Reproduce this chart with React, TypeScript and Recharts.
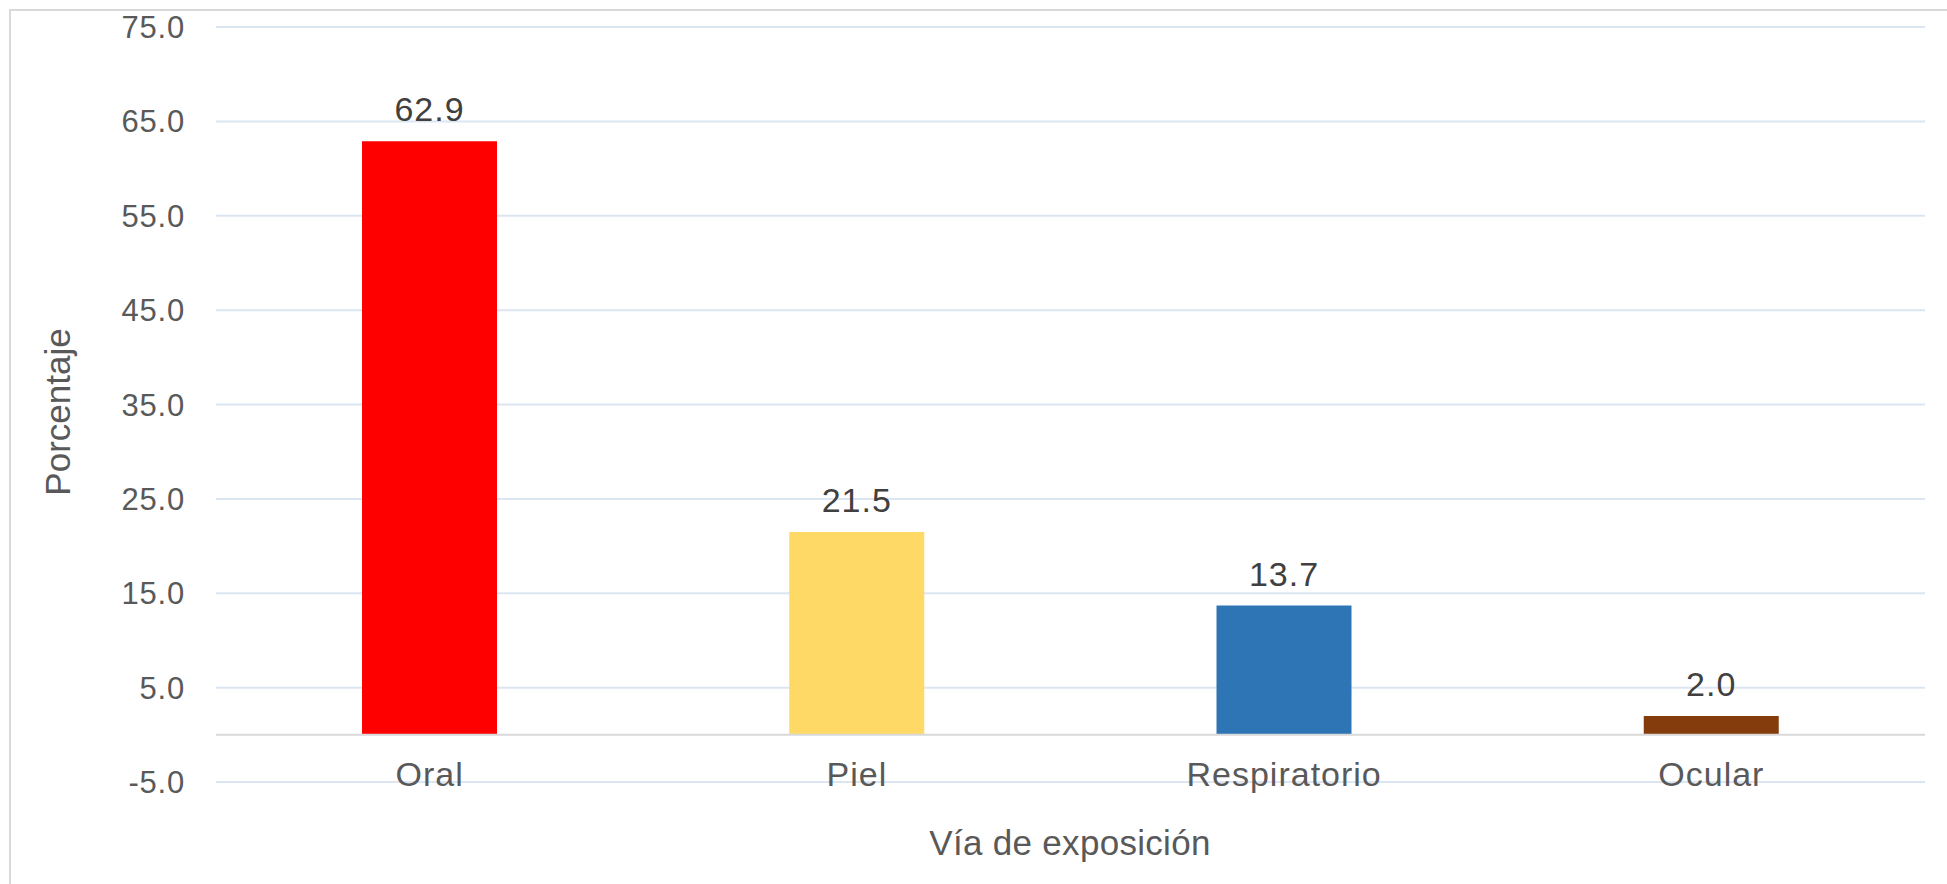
import React from "react";
import { BarChart, Bar, XAxis, YAxis, CartesianGrid, ReferenceLine, LabelList, Cell } from "recharts";

const categories = ["Oral", "Piel", "Respiratorio", "Ocular"];
const values = [62.9, 21.5, 13.7, 2.0];
const barColors = ["#FF0000", "#FFD966", "#2E75B6", "#843C0C"];
const yTicks = [-5, 5, 15, 25, 35, 45, 55, 65, 75];
const xTitle = "Vía de exposición";
const yTitle = "Porcentaje";

const data = categories.map((c, i) => ({ name: c, value: values[i] }));

const FONT = "'Liberation Sans', Arial, Helvetica, sans-serif";

const XTick = (props: any) => {
  const { x, y, payload } = props;
  return (
    <text x={x} y={y + 4} textAnchor="middle" fill="#595959" fontSize={34} fontFamily={FONT} letterSpacing={1}>
      {payload.value}
    </text>
  );
};

const YTick = (props: any) => {
  const { x, y, payload } = props;
  return (
    <text x={x} y={y + 11} textAnchor="end" fill="#595959" fontSize={31} fontFamily={FONT} letterSpacing={0.8}>
      {Number(payload.value).toFixed(1)}
    </text>
  );
};

const YTitle = () => (
  <text
    x={70}
    y={412}
    transform="rotate(-90 70 412)"
    textAnchor="middle"
    fill="#595959"
    fontSize={35}
    fontFamily={FONT}
  >
    {yTitle}
  </text>
);

const XTitle = () => (
  <text x={1070} y={855} textAnchor="middle" fill="#595959" fontSize={35} fontFamily={FONT} letterSpacing={0.3}>
    {xTitle}
  </text>
);

export default function App() {
  return (
    <div style={{ position: "absolute", left: 0, top: 0, width: 1947, height: 884, background: "#fff", overflow: "hidden" }}>
      <div
        style={{
          position: "absolute",
          left: 9,
          top: 9,
          width: 1960,
          height: 900,
          borderTop: "2px solid #d9d9d9",
          borderLeft: "2px solid #d9d9d9",
        }}
      />
      <div style={{ position: "absolute", left: 0, top: 0 }}>
        <BarChart
          width={1947}
          height={884}
          data={data}
          margin={{ top: 27, right: 22, bottom: 0, left: 0 }}
          barSize={135}
        >
          <CartesianGrid vertical={false} stroke="#DCE6F2" strokeWidth={2} />
          <XAxis
            dataKey="name"
            height={102}
            axisLine={false}
            tickLine={false}
            tickSize={0}
            tickMargin={0}
            tick={<XTick />}
            interval={0}
            label={<XTitle />}
          />
          <YAxis
            width={216}
            domain={[-5, 75]}
            ticks={yTicks}
            axisLine={false}
            tickLine={false}
            tickSize={0}
            tickMargin={31}
            tick={<YTick />}
            interval={0}
            label={<YTitle />}
          />
          <ReferenceLine y={0} stroke="#D9D9D9" strokeWidth={2} />
          <Bar dataKey="value" isAnimationActive={false}>
            {data.map((d, i) => (
              <Cell key={d.name} fill={barColors[i]} />
            ))}
            <LabelList
              dataKey="value"
              position="top"
              offset={20}
              formatter={(v: any) => Number(v).toFixed(1)}
              fill="#404040"
              fontSize={34}
              fontFamily={FONT}
              letterSpacing={1}
            />
          </Bar>
        </BarChart>
      </div>
    </div>
  );
}
